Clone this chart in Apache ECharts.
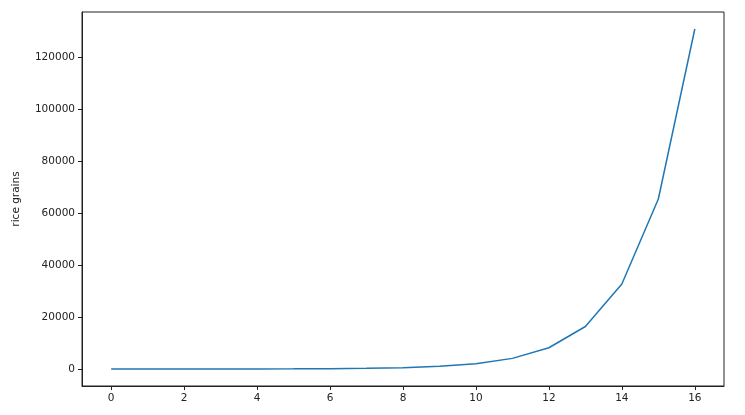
<!DOCTYPE html>
<html>
<head>
<meta charset="utf-8">
<script src="https://cdn.jsdelivr.net/npm/echarts@6/dist/echarts.min.js"></script>
<style>html,body{margin:0;padding:0;background:#fff}#c{width:745px;height:415px}</style>
</head>
<body>
<div id="c"></div>
<script>
var squares = [0, 1, 2, 3, 4, 5, 6, 7, 8, 9, 10, 11, 12, 13, 14, 15, 16];
var riceGrains = [2, 4, 8, 16, 32, 64, 128, 256, 512, 1024, 2048, 4096, 8192, 16384, 32768, 65536, 131072];
var xTicks = [0, 2, 4, 6, 8, 10, 12, 14, 16];
var yTicks = [0, 20000, 40000, 60000, 80000, 100000, 120000];

var chart = echarts.init(document.getElementById('c'), null, {renderer: 'canvas'});
var font = 'DejaVu Sans';
function plain(v) { return String(v); }
chart.setOption({
  animation: false,
  backgroundColor: '#fff',
  grid: {left: 82, right: 21, top: 12, bottom: 29, show: true, borderColor: '#222', borderWidth: 1, backgroundColor: '#fff'},
  xAxis: {
    type: 'value', min: -0.8, max: 16.8,
    splitLine: {show: false},
    axisLine: {show: true, onZero: false, lineStyle: {color: '#222', width: 1}},
    axisTick: {show: true, length: 4, customValues: xTicks, lineStyle: {color: '#222'}},
    axisLabel: {customValues: xTicks, formatter: plain, color: '#222', fontFamily: font, fontSize: 10.5, margin: 7}
  },
  yAxis: {
    type: 'value', min: -6551.5, max: 137625.5,
    name: 'rice grains', nameLocation: 'middle', nameGap: 60, nameRotate: 90,
    nameTextStyle: {color: '#222', fontFamily: font, fontSize: 10.5},
    splitLine: {show: false},
    axisLine: {show: true, onZero: false, lineStyle: {color: '#222', width: 1}},
    axisTick: {show: true, length: 4, customValues: yTicks, lineStyle: {color: '#222'}},
    axisLabel: {customValues: yTicks, formatter: plain, color: '#222', fontFamily: font, fontSize: 10.5, margin: 7}
  },
  series: [{
    type: 'line',
    data: squares.map(function (s, i) { return [s, riceGrains[i]]; }),
    showSymbol: false,
    lineStyle: {color: '#1f77b4', width: 1.5},
    itemStyle: {color: '#1f77b4'}
  }]
});
</script>
</body>
</html>
